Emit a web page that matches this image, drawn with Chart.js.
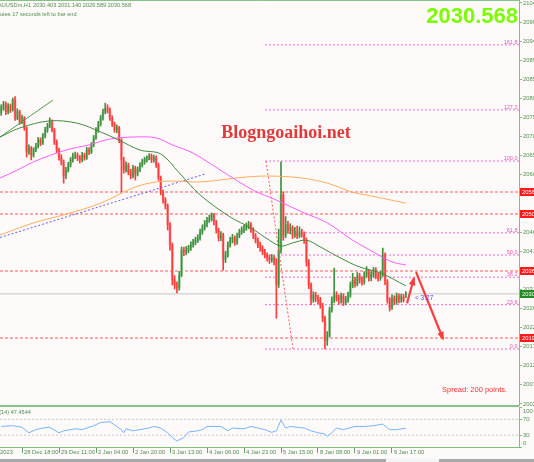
<!DOCTYPE html>
<html><head><meta charset="utf-8">
<script src="https://cdn.jsdelivr.net/npm/chart.js"></script>
<style>
html,body{margin:0;padding:0;background:#fffafa;overflow:hidden;width:534px;height:462px;}
#wrap{position:relative;width:534px;height:462px;background:#fffafa;overflow:hidden;}
canvas{position:absolute;left:0;}
#c1{top:0;}
#c2{top:406px;}
.bar{position:absolute;}
</style></head><body>
<div id="wrap">
<canvas id="c1" width="534" height="406"></canvas>
<canvas id="c2" width="534" height="56"></canvas>
<div class="bar" style="left:0;top:405px;width:519px;height:2px;background:#86c386"></div>
<div class="bar" style="left:0;top:459px;width:534px;height:3px;background:#a9a9a9"></div>
<div class="bar" style="left:386px;top:459px;width:53px;height:3px;background:#f4f4f4"></div>
</div>
<script>
// ---------- DATA (XAUUSDm H1) ----------
const opens = [
2076.5,2077.8,2078.8,2076.8,2078.3,2077.3,2079.8,2075.2,2076.8,2074.2,
2075.2,2072.7,2066.6,2067.6,2065.8,2067.1,2068.1,2069.6,2068.9,2070.7,
2072.2,2073.2,2074.2,2072.2,2069.1,2067.1,2065.1,2064.1,2060.5,2062.0,
2063.3,2064.6,2065.6,2065.8,2065.1,2064.6,2065.8,2065.1,2067.1,2066.6,
2068.4,2070.2,2072.2,2073.7,2075.2,2076.8,2077.8,2077.3,2075.2,2073.7,
2072.2,2072.7,2069.6,2064.6,2062.0,2063.3,2061.5,2060.5,2062.5,2061.0,
2062.0,2063.3,2064.1,2064.6,2065.1,2065.6,2064.6,2065.1,2063.3,2060.0,
2056.4,2054.4,2052.9,2048.1,2043.0,2034.1,2032.8,2032.1,2035.4,2041.7,
2041.2,2041.7,2042.2,2043.0,2043.7,2044.2,2044.8,2046.3,2047.3,2048.3,
2049.3,2049.8,2050.6,2048.8,2046.8,2044.8,2045.5,2039.2,2040.4,2043.0,
2044.2,2044.8,2043.7,2045.3,2046.3,2046.8,2047.3,2047.8,2048.1,2046.8,
2045.3,2044.2,2043.0,2042.2,2041.2,2040.4,2039.7,2039.2,2039.7,2038.7,
2033.0,2041.7,2055.7,2045.5,2048.1,2046.8,2047.3,2045.5,2046.3,2045.3,
2046.3,2045.8,2044.2,2038.7,2032.8,2029.0,2030.3,2029.5,2029.0,2027.7,
2024.4,2018.8,2020.1,2026.5,2029.0,2030.3,2029.5,2029.0,2030.0,2028.5,
2029.0,2030.3,2032.8,2034.1,2033.1,2035.1,2034.1,2033.6,2035.4,2036.1,
2034.6,2035.4,2036.6,2035.1,2034.6,2035.6,2040.4,2033.6,2029.0,2027.0,
2029.5,2028.5,2030.0,2029.0,2029.8,2030.403];
const highs = [
2078.6,2079.5,2079.3,2078.9,2078.8,2080.3,2080.7,2077.6,2077.2,2076.0,
2075.6,2073.0,2068.4,2068.0,2067.7,2068.8,2070.3,2070.2,2071.3,2072.9,
2073.9,2075.3,2074.8,2072.6,2069.7,2067.6,2065.9,2064.6,2062.7,2064.0,
2065.2,2066.3,2066.6,2066.4,2065.7,2066.5,2066.3,2067.8,2067.7,2069.0,
2070.8,2072.8,2074.4,2075.9,2077.5,2079.0,2078.6,2077.8,2075.8,2074.2,
2073.5,2073.1,2070.0,2065.3,2064.1,2063.8,2062.2,2063.2,2063.0,2062.8,
2063.9,2064.8,2065.3,2065.6,2066.2,2066.1,2065.8,2065.6,2063.8,2060.5,
2057.0,2055.0,2053.4,2048.7,2043.5,2035.2,2033.6,2036.3,2042.5,2042.4,
2042.6,2042.9,2043.8,2044.4,2045.0,2045.6,2047.0,2048.1,2049.2,2050.0,
2050.6,2051.1,2051.0,2049.3,2047.3,2046.4,2046.0,2041.4,2043.8,2045.0,
2045.7,2045.3,2046.0,2047.0,2047.6,2048.0,2048.6,2049.0,2048.7,2047.4,
2045.9,2044.8,2043.7,2042.8,2041.9,2041.0,2040.4,2040.6,2040.3,2039.5,
2047.0,2064.1,2056.5,2050.2,2049.0,2048.4,2047.9,2047.5,2047.8,2047.6,
2047.0,2046.3,2044.8,2039.3,2033.4,2031.1,2031.0,2030.2,2029.7,2028.2,
2024.9,2021.0,2027.2,2029.8,2037.1,2031.1,2030.3,2030.8,2030.6,2029.9,
2031.0,2033.6,2035.8,2034.8,2036.0,2035.8,2034.9,2036.2,2037.5,2036.7,
2036.2,2037.3,2037.2,2035.9,2036.4,2042.2,2041.0,2034.2,2029.6,2030.3,
2030.1,2030.8,2030.6,2030.5,2030.4,2031.14];
const lows = [
2075.9,2077.2,2076.1,2076.3,2076.6,2077.0,2074.6,2074.8,2073.6,2073.8,
2072.1,2065.3,2066.0,2064.6,2065.3,2066.7,2067.6,2068.2,2068.5,2070.2,
2071.6,2072.8,2071.7,2068.5,2066.4,2064.5,2063.3,2058.7,2059.8,2061.5,
2062.8,2064.0,2064.9,2064.4,2063.8,2064.1,2064.5,2064.7,2065.9,2066.2,
2067.9,2069.8,2071.6,2073.2,2074.7,2076.3,2076.5,2074.6,2073.1,2071.6,
2071.5,2069.0,2056.4,2061.2,2061.5,2060.8,2059.8,2060.0,2059.5,2060.5,
2061.6,2062.8,2063.5,2064.0,2064.6,2063.9,2064.0,2062.7,2059.4,2055.7,
2053.6,2052.1,2046.8,2041.7,2032.8,2031.8,2030.8,2031.5,2034.9,2040.3,
2040.5,2041.0,2041.6,2042.4,2043.0,2043.6,2044.2,2045.7,2046.8,2047.6,
2048.7,2049.1,2048.1,2046.0,2044.0,2044.1,2036.6,2038.5,2039.9,2042.4,
2043.5,2042.9,2043.1,2044.8,2045.7,2046.1,2046.7,2047.1,2046.2,2044.6,
2043.5,2042.3,2041.4,2040.5,2039.7,2038.9,2038.3,2038.6,2037.9,2024.4,
2032.2,2040.9,2044.2,2044.8,2045.9,2045.8,2044.6,2044.9,2044.6,2044.8,
2045.0,2043.4,2037.6,2031.9,2027.8,2028.4,2028.6,2028.1,2026.9,2023.5,
2016.6,2017.5,2019.6,2025.9,2028.3,2028.7,2027.9,2028.2,2027.6,2027.8,
2028.4,2029.7,2032.1,2032.3,2032.6,2033.3,2032.8,2033.0,2034.8,2033.8,
2033.9,2034.8,2034.4,2033.8,2034.0,2035.0,2032.9,2028.2,2026.2,2026.6,
2027.8,2027.9,2028.3,2028.4,2028.5,2029.589];
const closes = [
2077.8,2078.8,2076.8,2078.3,2077.3,2079.8,2075.2,2076.8,2074.2,2075.2,
2072.7,2066.6,2067.6,2065.8,2067.1,2068.1,2069.6,2068.9,2070.7,2072.2,
2073.2,2074.2,2072.2,2069.1,2067.1,2065.1,2064.1,2060.5,2062.0,2063.3,
2064.6,2065.6,2065.8,2065.1,2064.6,2065.8,2065.1,2067.1,2066.6,2068.4,
2070.2,2072.2,2073.7,2075.2,2076.8,2077.8,2077.3,2075.2,2073.7,2072.2,
2072.7,2069.6,2064.6,2062.0,2063.3,2061.5,2060.5,2062.5,2061.0,2062.0,
2063.3,2064.1,2064.6,2065.1,2065.6,2064.6,2065.1,2063.3,2060.0,2056.4,
2054.4,2052.9,2048.1,2043.0,2034.1,2032.8,2032.1,2035.4,2041.7,2041.2,
2041.7,2042.2,2043.0,2043.7,2044.2,2044.8,2046.3,2047.3,2048.3,2049.3,
2049.8,2050.6,2048.8,2046.8,2044.8,2045.5,2039.2,2040.4,2043.0,2044.2,
2044.8,2043.7,2045.3,2046.3,2046.8,2047.3,2047.8,2048.1,2046.8,2045.3,
2044.2,2043.0,2042.2,2041.2,2040.4,2039.7,2039.2,2039.7,2038.7,2033.0,
2041.7,2055.7,2045.5,2048.1,2046.8,2047.3,2045.5,2046.3,2045.3,2046.3,
2045.8,2044.2,2038.7,2032.8,2029.0,2030.3,2029.5,2029.0,2027.7,2024.4,
2018.8,2020.1,2026.5,2029.0,2030.3,2029.5,2029.0,2030.0,2028.5,2029.0,
2030.3,2032.8,2034.1,2033.1,2035.1,2034.1,2033.6,2035.4,2036.1,2034.6,
2035.4,2036.6,2035.1,2034.6,2035.6,2040.4,2033.6,2029.0,2027.0,2029.5,
2028.5,2030.0,2029.0,2029.8,2029.0,2030.568];

// moving averages (bar index, price)
const maGreenIdx = [-0.5,8,21,33,43,51,60,69,77,86,99,108,116,121,126,132,138,146,155,164,175];
const maGreenVal = [2070.4,2072.7,2074.5,2073.9,2071.7,2069.6,2067.1,2066.1,2061.3,2055.7,2050.1,2047.3,2044.2,2042.7,2043.5,2044.2,2042.5,2039.9,2037.4,2035.9,2032.6];
const maMagIdx = [-0.5,7,14,28,38,47,57,67,74,83,98,109,119,130,141,152,161,169,175];
const maMagVal = [2060.0,2062.0,2064.1,2067.1,2068.4,2069.9,2070.4,2070.2,2068.4,2066.3,2060.8,2056.9,2054.4,2051.4,2048.6,2044.2,2041.2,2038.7,2037.9];
const maOrIdx = [-0.5,14,28,43,57,67,76,86,105,116,130,141,152,162,175];
const maOrVal = [2045.5,2048.6,2050.8,2053.6,2057.5,2059.0,2059.2,2059.0,2060.2,2060.5,2060.0,2058.7,2056.4,2055.2,2053.6];

// drawn objects
const trendGreenIdx = [-0.5,22.4], trendGreenVal = [2070.4,2079.8];
const trendBlueIdx = [-0.5,88.1], trendBlueVal = [2044.9,2061.0];
const fibDiagIdx = [114.5,126.2], fibDiagVal = [2064.31,2016.56];
const fibStartIdx = 114.1;
const fibPrices = [2016.56,2027.83,2034.80,2040.44,2046.07,2064.31,2077.30,2093.82];
const fibLabels = ['0.0','23.6','38.2','50.0','61.8','100.0','127.2','161.8'];
const hLevels = [2056.44,2050.85,2036.38,2019.36];
const hLevelLabels = ['2056','2050','2036','2019'];
const lastPrice = 2030.568, lastPriceLabel = '2030';
const arrowUpIdx = [175.5,178.5], arrowUpVal = [2028.2,2034.6];
const arrowDownIdx = [179.4,191.1], arrowDownVal = [2036.1,2019.1];

// axis ticks
const priceTicks = [2104.45,2099.60,2094.75,2089.90,2085.05,2080.20,2075.35,2070.50,2065.65,2060.80,2055.95,2051.10,2046.25,2041.40,2036.55,2031.70,2026.85,2022.00,2017.15,2012.30,2007.45,2002.60];
const priceTickLabels = ['2104','2099','2094','2089','2085','2080','2075','2070','2065','2060','2055','2051','2046','2041','2036','2031','2026','2022','2017','2012','2007','2002'];
const dateTickIdx = [-10,9,25,41,57,73,89,105,121,137,153,169];
const dateTickLabels = ['27 Dec 2023','28 Dec 18:00','29 Dec 11:00','2 Jan 04:00','2 Jan 20:00','3 Jan 13:00','4 Jan 06:00','4 Jan 23:00','5 Jan 15:00','8 Jan 08:00','9 Jan 01:00','9 Jan 17:00'];

// RSI(14)
const rsiIdx = [0,5,9,12,15,18,21,25,27,32,35,40,43,47,50,52,53,54,57,60,64,66,69,72,74,76,79,81,85,87,89,95,98,100,105,108,111,114,117,119,121,123,125,128,131,134,137,140,141,143,145,148,153,157,161,165,168,171,175];
const rsiVal = [52,54,50,36,44,48,50,36,41,46,44,54,62,64,52,44,36,46,41,44,48,52,48,36,24,15,24,38,41,44,52,52,41,48,46,52,48,44,37,41,68,48,52,50,48,41,36,33,27,36,48,44,52,52,54,58,44,44,47.45];
const rsiTicks = [0,30,70,100];
const rsiTickLabels = ['0','30','70','100'];
const rsiLevels = [70,30];

// ---------- RENDER ----------
const XMIN = -0.515, XMAX = 223.92;
const FONT = 'Liberation Sans';
const AX = '#7fbf7f', TXT = '#4d8f4d';
const pts = (xs, ys) => xs.map((x,i)=>({x, y:ys[i]}));
const up = closes.map((c,i)=> c >= opens[i]);
const lineDs = (data, color, w, dash) => ({type:'line', data, borderColor:color, borderWidth:w, borderDash:dash||[], pointRadius:0, tension:0, fill:false});
const smoothDs = (data, color) => ({type:'line', data, borderColor:color, borderWidth:1, pointRadius:0, tension:0.35, fill:false});

const mainSets = [
  lineDs(pts(arrowUpIdx, arrowUpVal), '#ff3b3b', 2.2),
  lineDs(pts(arrowDownIdx, arrowDownVal), '#ff3b3b', 2.2),
  smoothDs(pts(maGreenIdx, maGreenVal), '#3f8a3f'),
  smoothDs(pts(maMagIdx, maMagVal), '#ff5cff'),
  smoothDs(pts(maOrIdx, maOrVal), '#ffad5c'),
  lineDs(pts(trendGreenIdx, trendGreenVal), '#4e9a4e', 1),
  lineDs(pts(trendBlueIdx, trendBlueVal), '#5c5cff', 1, [2,2]),
  lineDs(pts(fibDiagIdx, fibDiagVal), '#ff5a5a', 1, [2,2]),
  {type:'bar', data: highs.map((h,i)=>({x:i, y:[lows[i], h]})), barThickness:1, grouped:false, borderWidth:0,
   backgroundColor: up.map(u=> u ? '#3f8f3f' : '#ff3b3b')},
  {type:'bar', data: closes.map((c,i)=>({x:i, y:[opens[i], c]})), barThickness:2, grouped:false, borderWidth:0,
   backgroundColor: up.map(u=> u ? '#a8d8a2' : '#ffa3a3')},
  lineDs([{x:XMIN,y:lastPrice},{x:XMAX,y:lastPrice}], '#c4c4c4', 1),
  ...hLevels.map(p => lineDs([{x:XMIN,y:p},{x:XMAX,y:p}], '#ff5a5a', 1, [3,2])),
  ...fibPrices.map(p => lineDs([{x:fibStartIdx,y:p},{x:XMAX,y:p}], '#ec6ad2', 1, [2,2]))
];

const mainOverlay = {id:'mainOverlay', afterDraw(chart){
  const {ctx, scales:{x,y}, chartArea:a} = chart;
  ctx.save();
  ctx.strokeStyle = '#86c386'; ctx.lineWidth = 1;
  ctx.beginPath(); ctx.moveTo(0,0.5); ctx.lineTo(a.right,0.5); ctx.stroke();
  // fib labels
  ctx.font = '5.5px "'+FONT+'"'; ctx.fillStyle = '#e05ab4'; ctx.textAlign='right'; ctx.textBaseline='alphabetic';
  fibPrices.forEach((p,i)=> ctx.fillText(fibLabels[i], a.right-1.5, y.getPixelForValue(p)-1));
  // arrow heads
  const head = (xi, yv) => {
    const x1=x.getPixelForValue(xi[0]), y1=y.getPixelForValue(yv[0]), x2=x.getPixelForValue(xi[1]), y2=y.getPixelForValue(yv[1]);
    const ang=Math.atan2(y2-y1,x2-x1), L=7, W=3.3;
    ctx.beginPath(); ctx.moveTo(x2+Math.cos(ang)*1.5,y2+Math.sin(ang)*1.5);
    ctx.lineTo(x2-L*Math.cos(ang)+W*Math.sin(ang), y2-L*Math.sin(ang)-W*Math.cos(ang));
    ctx.lineTo(x2-L*Math.cos(ang)-W*Math.sin(ang), y2-L*Math.sin(ang)+W*Math.cos(ang));
    ctx.closePath(); ctx.fill();
  };
  ctx.fillStyle = '#ff3b3b';
  head(arrowUpIdx, arrowUpVal); head(arrowDownIdx, arrowDownVal);
  // price boxes on axis
  const box = (p, txt, col) => {
    const py = Math.round(y.getPixelForValue(p));
    ctx.fillStyle = col; ctx.fillRect(a.right+1, py-4, 20, 8);
    ctx.fillStyle = '#ffffff'; ctx.textAlign='left'; ctx.textBaseline='middle';
    ctx.font = '5.8px "'+FONT+'"'; ctx.fillText(txt, a.right+3, py+0.5);
  };
  hLevels.forEach((p,i)=> box(p, hLevelLabels[i], '#ff1a1a'));
  box(lastPrice, lastPriceLabel, '#238c23');
  // header texts
  ctx.fillStyle = TXT; ctx.font = '5.6px "'+FONT+'"'; ctx.textBaseline='middle';
  ctx.textAlign='right'; ctx.fillText('XAUUSDm,H1', 31, 5.5);
  ctx.textAlign='left'; ctx.fillText('2030.403 2031.140 2029.589 2030.568', 33, 5.5);
  const pre = ctx.measureText('min').width;
  ctx.fillText('minutes 17 seconds left to bar end', -pre, 14);
  // big price
  ctx.fillStyle = '#7cfc00'; ctx.font = 'bold 22px "'+FONT+'"'; ctx.textAlign='right'; ctx.textBaseline='alphabetic';
  ctx.fillText('2030.568', 518, 23);
  // watermark
  ctx.fillStyle = '#e03a3a'; ctx.font = 'bold 18px "Liberation Serif"'; ctx.textAlign='center';
  ctx.fillText('Blogngoaihoi.net', 286, 138);
  // timer
  ctx.fillStyle = '#4a4aff'; ctx.font = '6.5px "'+FONT+'"'; ctx.textAlign='left'; ctx.textBaseline='middle';
  ctx.fillText('< 3:27', 415, 298);
  // spread
  ctx.fillStyle = '#ff3030'; ctx.font = '7.5px "'+FONT+'"'; ctx.textBaseline='alphabetic';
  ctx.fillText('Spread: 200 points.', 442, 392);
  ctx.restore();
}};

new Chart(document.getElementById('c1'), {
  type:'bar',
  data:{datasets: mainSets},
  options:{
    responsive:false, animation:false, events:[],
    layout:{padding:0},
    plugins:{legend:{display:false}, tooltip:{enabled:false}},
    scales:{
      x:{type:'linear', min:XMIN, max:XMAX, offset:false, display:false},
      y:{position:'right', min:2002.09, max:2105.21,
         afterBuildTicks: s => { s.ticks = priceTicks.map(v=>({value:v})); },
         afterFit: s => { s.width = 15; s.paddingTop = 0; s.paddingBottom = 0; },
         grid:{drawOnChartArea:false, drawTicks:true, tickLength:3, tickColor:AX},
         border:{display:true, color:AX, width:1},
         ticks:{autoSkip:false, padding:1, color:TXT, font:{family:FONT, size:5.8},
                callback:(v,i)=> priceTickLabels[i]}}
    }
  },
  plugins:[mainOverlay]
});

const rsiOverlay = {id:'rsiOverlay', afterDraw(chart){
  const {ctx} = chart;
  ctx.save();
  ctx.fillStyle = TXT; ctx.font = '5.6px "'+FONT+'"'; ctx.textAlign='left'; ctx.textBaseline='middle';
  const pre = ctx.measureText('RSI(').width;
  ctx.fillText('RSI(14) 47.4544', -pre+1, 6.5);
  ctx.restore();
}};

new Chart(document.getElementById('c2'), {
  type:'line',
  data:{datasets:[
    {data: pts(rsiIdx, rsiVal), borderColor:'#74b4ff', borderWidth:1, pointRadius:0, tension:0, fill:false},
    ...rsiLevels.map(l => ({data:[{x:XMIN,y:l},{x:XMAX,y:l}], borderColor:'#c8c8c8', borderWidth:1, borderDash:[2,2], pointRadius:0}))
  ]},
  options:{
    responsive:false, animation:false, events:[],
    layout:{padding:{top:1.5, left:0, right:0, bottom:0}},
    plugins:{legend:{display:false}, tooltip:{enabled:false}},
    scales:{
      x:{type:'linear', min:XMIN, max:XMAX, offset:false, position:'bottom',
         afterBuildTicks: s => { s.ticks = dateTickIdx.map(v=>({value:v})); },
         afterFit: s => { s.height = 15; s.paddingLeft = 0; s.paddingRight = 0; },
         grid:{drawOnChartArea:false, drawTicks:true, tickLength:6, tickColor:'#6a9f6a'},
         border:{display:true, color:AX, width:1},
         ticks:{autoSkip:false, maxRotation:0, minRotation:0, align:'start', padding:-4, labelOffset:2,
                color:TXT, font:{family:FONT, size:5.8}, callback:(v,i)=> dateTickLabels[i]}},
      y:{position:'right', min:0, max:100,
         afterBuildTicks: s => { s.ticks = rsiTicks.map(v=>({value:v})); },
         afterFit: s => { s.width = 15; s.paddingTop = 0; s.paddingBottom = 0; },
         grid:{drawOnChartArea:false, drawTicks:true, tickLength:3, tickColor:AX},
         border:{display:true, color:AX, width:1},
         ticks:{autoSkip:false, padding:1, color:TXT, font:{family:FONT, size:5.8},
                callback:(v,i)=> i===rsiTicks.length-1 ? ['', rsiTickLabels[i]] : (i===0 ? [rsiTickLabels[i], ''] : rsiTickLabels[i])}}
    }
  },
  plugins:[rsiOverlay]
});
</script>
</body></html>
